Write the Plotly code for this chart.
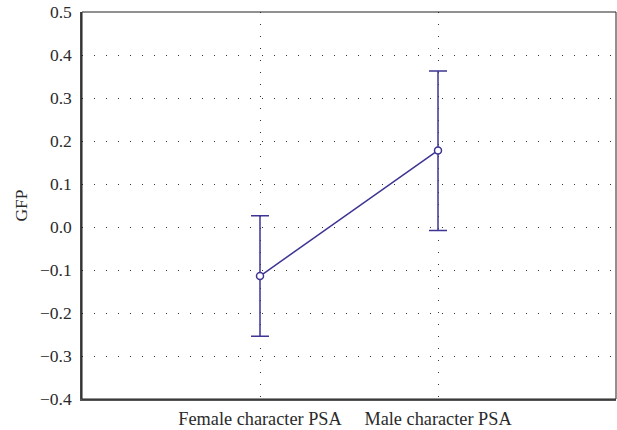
import plotly.graph_objects as go

categories = ["Female character PSA", "Male character PSA"]
gfp_mean = [-0.114, 0.178]
ci_upper = [0.026, 0.363]
ci_lower = [-0.254, -0.008]
y_ticks = [-0.4, -0.3, -0.2, -0.1, 0.0, 0.1, 0.2, 0.3, 0.4, 0.5]

line_color = "#3d3494"
x_pos = list(range(len(categories)))

fig = go.Figure()
fig.add_trace(go.Scatter(
    x=x_pos, y=gfp_mean,
    mode="lines+markers",
    line=dict(color=line_color, width=1.5),
    marker=dict(symbol="circle", size=7, color="white",
                line=dict(color=line_color, width=1.5)),
    error_y=dict(type="data", symmetric=False,
                 array=[u - m for u, m in zip(ci_upper, gfp_mean)],
                 arrayminus=[m - l for m, l in zip(gfp_mean, ci_lower)],
                 color=line_color, thickness=1.5, width=9),
    showlegend=False,
))

font_family = "Liberation Serif, Times New Roman, serif"
fs = 17.5

fig.update_layout(
    width=617, height=430,
    margin=dict(l=82, r=1, t=12, b=30),
    plot_bgcolor="white", paper_bgcolor="white",
    font=dict(family=font_family, size=fs, color="#2a2a2a"),
    xaxis=dict(
        range=[-1, 2],
        tickmode="array", tickvals=x_pos, ticktext=categories,
        showgrid=True, gridcolor="#333", gridwidth=1, griddash="1px,11px",
        zeroline=False, showline=True, linecolor="#555", linewidth=2,
        ticks="", tickfont=dict(size=18.3), ticklabelstandoff=2,
    ),
    yaxis=dict(
        range=[-0.4, 0.5],
        tickmode="array", tickvals=y_ticks,
        ticktext=[("\u2212" if v < 0 else "") + f"{abs(v):.1f}" for v in y_ticks],
        showgrid=True, gridcolor="#333", gridwidth=1, griddash="1px,11px",
        zeroline=False, showline=True, linecolor="#444", linewidth=1.5,
        ticks="", ticklabelstandoff=5, tickfont=dict(size=fs),
        title=dict(text="GFP", font=dict(size=fs), standoff=8),
    ),
    shapes=[dict(type="rect", xref="paper", yref="paper", x0=0, x1=1, y0=0, y1=1,
                 line=dict(color="#222", width=1), layer="above")],
)

post = ("document.body.style.margin='0';"
        "var gd=document.getElementById('{plot_id}');"
        "Plotly.relayout(gd,{width:617,height:430});")
fig.write_html("out.html", config={"responsive": False, "displayModeBar": False},
               post_script=post)
